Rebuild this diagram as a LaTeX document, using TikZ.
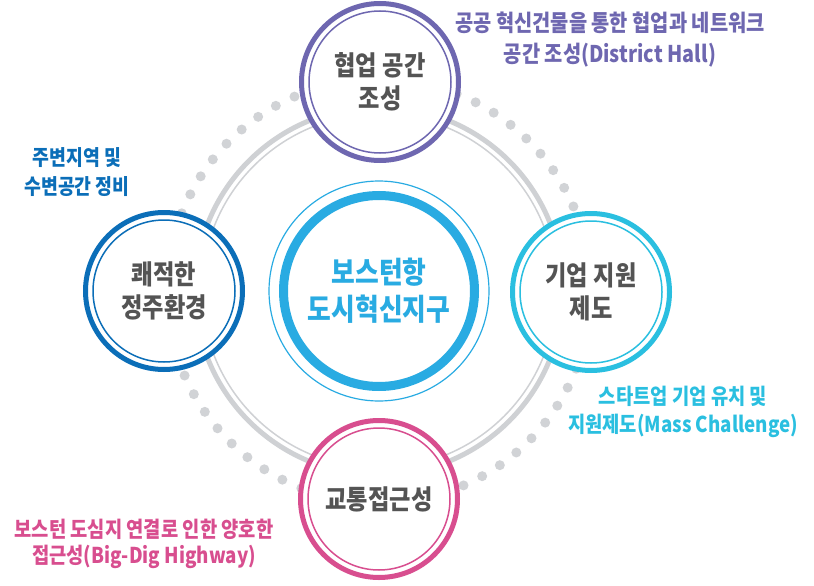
\documentclass[tikz,border=0pt]{standalone}
\usepackage{fontspec}
\newfontfamily\kr[FakeStretch=0.86]{Noto Sans CJK KR}
\usetikzlibrary{calc}
\definecolor{cpurple}{HTML}{6E67B0}
\definecolor{cblue}{HTML}{0B6EB8}
\definecolor{ccyan}{HTML}{2ABFE0}
\definecolor{cpink}{HTML}{D84E8F}
\definecolor{ccenter}{HTML}{29ABE2}
\definecolor{cring}{HTML}{CFD1D4}
\definecolor{cdot}{HTML}{D1D3D6}
\definecolor{ctext}{HTML}{545454}
\begin{document}
\begin{tikzpicture}[x=1pt,y=-1pt,
  sat/.style={circle, minimum size=157pt, inner sep=0pt, fill=white, line width=5pt,
    text=ctext, font=\kr\bfseries\fontsize{27}{33}\selectfont, align=center},
  satinner/.style={line width=1.5pt},
  note/.style={align=center, inner sep=0pt},
  dotmark/.style={fill=cdot}]
\useasboundingbox (0,0) rectangle (814,586);
\coordinate (o) at (379,291);
% dotted circle
\foreach \i in {0,...,63}
  \fill[dotmark] ($(o)+({113.5+\i*5.625}:212pt)$) circle[radius=5pt];
% gray ring
\draw[cring, line width=5pt] (o) circle[radius=184pt];
\draw[cring, line width=1.5pt] (o) circle[radius=177pt];
% center
\node[circle, minimum size=191pt, inner sep=0pt, draw=ccenter, line width=9pt, fill=white,
  text=ccenter, font=\kr\bfseries\fontsize{30}{37}\selectfont, align=center]
  (c) at (o) {보스턴항\\도시혁신지구};
\draw[ccenter, line width=1.2pt] (c.center) circle[radius=110pt];
% satellites
\node[sat, draw=cpurple] (top) at (380,82) {협업 공간\\조성};
\draw[satinner, cpurple] (top.center) circle[radius=71pt];
\node[sat, draw=cblue] (left) at (164,291) {쾌적한\\정주환경};
\draw[satinner, cblue] (left.center) circle[radius=71pt];
\node[sat, draw=ccyan] (right) at (591,292) {기업 지원\\제도};
\draw[satinner, ccyan] (right.center) circle[radius=71pt];
\node[sat, draw=cpink] (bottom) at (379,499) {교통접근성};
\draw[satinner, cpink] (bottom.center) circle[radius=71pt];
% annotations
\node[note, text=cpurple, font=\kr\bfseries\fontsize{23}{31}\selectfont] (ntop) at (610,39.5)
  {공공 혁신건물을 통한 협업과 네트워크\\공간 조성(District Hall)};
\node[note, text=cblue, font=\kr\bfseries\fontsize{21.3}{29}\selectfont] (nleft) at (77,172)
  {주변지역 및\\수변공간 정비};
\node[note, text=ccyan, font=\kr\bfseries\fontsize{21.8}{28}\selectfont] (nright) at (683,412)
  {스타트업 기업 유치 및\\지원제도(Mass Challenge)};
\node[note, text=cpink, font=\kr\bfseries\fontsize{21.8}{25.5}\selectfont] (nbottom) at (144,544)
  {보스턴 도심지 연결로 인한 양호한\\접근성(Big-Dig Highway)};
\end{tikzpicture}
\end{document}
